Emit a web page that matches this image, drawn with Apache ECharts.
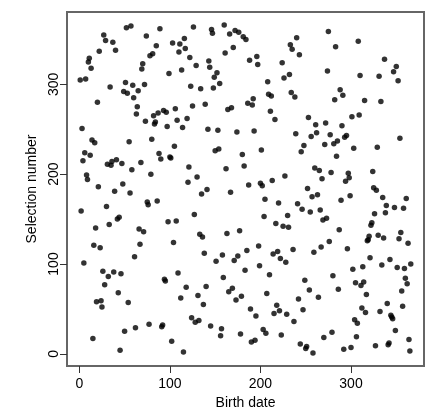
<!DOCTYPE html>
<html>
<head>
<meta charset="utf-8">
<script src="https://cdn.jsdelivr.net/npm/echarts@6/dist/echarts.min.js"></script>
<style>
  html, body { margin: 0; padding: 0; background: #fff; }
  #chart { width: 445px; height: 415px; }
</style>
</head>
<body>
<div id="chart"></div>
<script>
// selection numbers by month, day 1 .. end of month
const jan = [305, 159, 251, 215, 101, 224, 306, 199, 194, 325, 329, 221, 318, 238, 17, 121, 235, 140, 58, 280, 186, 337, 118, 59, 52, 92, 355, 77, 349, 164, 211];
const feb = [86, 144, 297, 210, 214, 347, 91, 181, 338, 216, 150, 68, 152, 4, 89, 212, 189, 292, 25, 302, 363, 290, 57, 236, 179, 365, 205, 299, 285];
const mar = [108, 29, 267, 275, 293, 139, 122, 213, 317, 323, 136, 300, 259, 354, 169, 166, 33, 332, 200, 239, 334, 265, 256, 258, 343, 170, 268, 223, 362, 217, 30];
const apr = [32, 271, 83, 81, 269, 253, 147, 312, 219, 218, 14, 346, 124, 231, 273, 148, 260, 90, 336, 345, 62, 316, 252, 2, 351, 340, 74, 262, 191, 208];
const may = [330, 298, 40, 276, 364, 155, 35, 321, 197, 65, 37, 133, 295, 178, 130, 55, 112, 278, 75, 183, 250, 326, 319, 31, 361, 357, 296, 308, 226, 103, 313];
const jun = [249, 228, 301, 20, 28, 110, 85, 366, 335, 206, 134, 272, 69, 356, 180, 274, 73, 341, 104, 360, 60, 247, 109, 358, 137, 22, 64, 222, 353, 209];
const jul = [93, 350, 115, 279, 188, 327, 50, 13, 277, 284, 248, 15, 42, 331, 322, 120, 98, 190, 227, 187, 27, 153, 172, 23, 67, 303, 289, 88, 270, 287, 193];
const aug = [111, 45, 261, 145, 54, 114, 168, 48, 106, 21, 324, 142, 307, 198, 102, 44, 154, 141, 311, 344, 291, 339, 116, 36, 286, 245, 352, 167, 61, 333, 11];
const sep = [225, 161, 49, 232, 82, 6, 8, 184, 263, 71, 158, 242, 175, 1, 113, 207, 255, 246, 177, 63, 204, 160, 119, 195, 149, 18, 233, 257, 151, 315];
const oct = [359, 125, 244, 202, 24, 87, 234, 283, 342, 220, 237, 72, 138, 294, 171, 254, 288, 5, 241, 192, 243, 117, 201, 196, 176, 7, 264, 94, 229, 38, 79];
const nov = [19, 34, 348, 266, 310, 76, 51, 97, 80, 282, 46, 66, 126, 127, 131, 107, 143, 146, 203, 185, 156, 9, 182, 230, 132, 309, 47, 281, 99, 174];
const dec = [129, 328, 157, 165, 56, 10, 12, 105, 43, 41, 39, 314, 163, 26, 320, 96, 304, 128, 240, 135, 70, 53, 162, 95, 84, 173, 78, 123, 16, 3, 100];

const xTicks = [0, 100, 200, 300];
const yTicks = [0, 100, 200, 300];

const selection = [].concat(jan, feb, mar, apr, may, jun, jul, aug, sep, oct, nov, dec);
const points = selection.map((v, i) => [i + 1, v]);

const chart = echarts.init(document.getElementById('chart'));
const font = 'Liberation Sans, Arial, sans-serif';

chart.setOption({
  animation: false,
  grid: {
    left: 67, right: 21, top: 12, bottom: 46,
    show: true,
    borderColor: '#666',
    borderWidth: 2
  },
  xAxis: {
    type: 'value',
    min: -13.6,
    max: 380.6,
    name: 'Birth date',
    nameLocation: 'middle',
    nameGap: 30,
    nameTextStyle: { color: '#000', fontSize: 14, fontFamily: font },
    axisLine: { show: false, onZero: false },
    splitLine: { show: false },
    axisTick: { show: true, length: 7, customValues: xTicks, lineStyle: { color: '#333' } },
    axisLabel: { customValues: xTicks, color: '#000', fontSize: 14, fontFamily: font, margin: 11 }
  },
  yAxis: {
    type: 'value',
    min: -13.6,
    max: 380.6,
    name: 'Selection number',
    nameLocation: 'middle',
    nameRotate: 90,
    nameGap: 23,
    nameTextStyle: { color: '#000', fontSize: 14, fontFamily: font },
    axisLine: { show: false, onZero: false },
    splitLine: { show: false },
    axisTick: { show: true, length: 7, customValues: yTicks, lineStyle: { color: '#333' } },
    axisLabel: { customValues: yTicks, rotate: 90, color: '#000', fontSize: 14, fontFamily: font, margin: 6 }
  },
  series: [{
    type: 'scatter',
    data: points,
    symbolSize: 5.5,
    itemStyle: { color: '#000' }
  }]
});
</script>
</body>
</html>
